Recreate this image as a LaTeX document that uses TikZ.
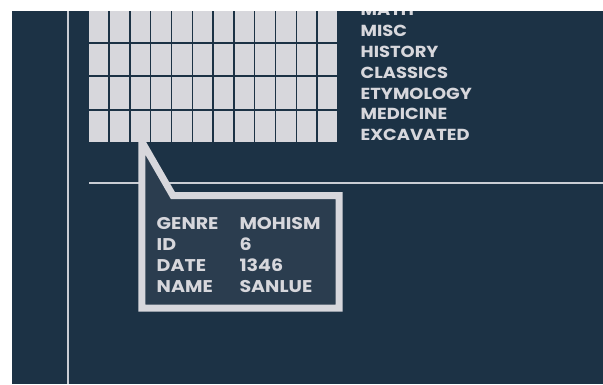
\documentclass[tikz,border=0pt]{standalone}
\usepackage{fontspec}
\setmainfont{Poppins}
\newfontfamily\widefont{Poppins}[FakeStretch=1.12]
\definecolor{navy}{HTML}{1C3245}
\definecolor{boxfill}{HTML}{2B3D4F}
\definecolor{lite}{HTML}{D7D7DC}
\definecolor{rule}{HTML}{C9CDD4}
\begin{document}
\begin{tikzpicture}[x=1pt,y=-1pt,
  cell/.style={fill=lite,draw=none},
  lbl/.style={anchor=base west,inner sep=0pt,text=lite,font=\widefont\fontsize{16}{18}\selectfont\bfseries},
  tip/.style={anchor=base west,inner sep=0pt,text=lite,font=\widefont\fontsize{17}{19}\selectfont\bfseries}]
\useasboundingbox (0,0) rectangle (603,384);
\fill[white] (0,0) rectangle (603,384);
\fill[navy] (12,11) rectangle (603,384);
\begin{scope}
\clip (12,11) rectangle (603,384);
% grid
\foreach \c in {0,...,11}{
  \foreach \r in {0,...,3}{
    \fill[lite] ({89+\c*20.8},{10.3+\r*33.55}) rectangle ++(19.3,31.4);
  }
}
% category labels
\node[lbl] (math) at (360.5,15.9) {MATH};
\node[lbl] (misc) at (360.5,36.7) {MISC};
\node[lbl] (hist) at (360.5,57.5) {HISTORY};
\node[lbl] (clas) at (360.5,78.3) {CLASSICS};
\node[lbl] (etym) at (360.5,99.1) {ETYMOLOGY};
\node[lbl] (medi) at (360.5,119.9) {MEDICINE};
\node[lbl] (exca) at (360.5,140.7) {EXCAVATED};
% rules
\draw[rule,line width=2pt] (67.7,11) -- (67.7,384);
\draw[rule,line width=2pt] (89,182.6) -- (603,182.6);
% callout
\draw[lite,fill=boxfill,line width=7pt,line join=miter]
  (141.8,308) -- (141.8,141.7) -- (141.8+0.1,141.7) -- (173,195.7) -- (339.2,195.7) -- (339.2,308) -- cycle;
\node[tip] (k1) at (156.5,229.3) {GENRE};
\node[tip] (k2) at (156.5,250.3) {ID};
\node[tip] (k3) at (156.5,271.3) {DATE};
\node[tip] (k4) at (156.5,292.3) {NAME};
\node[tip] (v1) at (239.3,229.3) {MOHISM};
\node[tip] (v2) at (239.3,250.3) {6};
\node[tip] (v3) at (239.3,271.3) {1346};
\node[tip] (v4) at (239.3,292.3) {SANLUE};
\end{scope}
\end{tikzpicture}
\end{document}
